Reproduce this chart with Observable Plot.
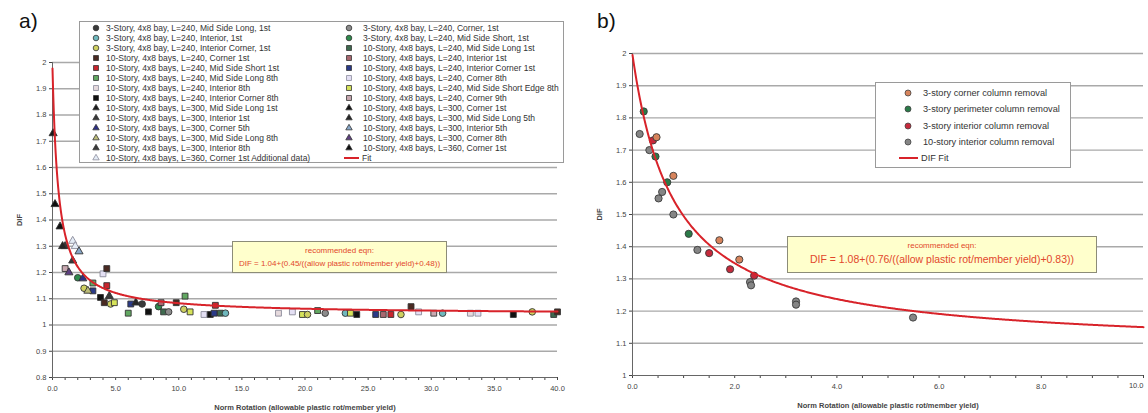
<!DOCTYPE html>
<html><head><meta charset="utf-8">
<script src="https://cdn.jsdelivr.net/npm/d3@7"></script>
<script src="https://cdn.jsdelivr.net/npm/@observablehq/plot@0.6"></script>
<style>
body{margin:0;background:#fff;font-family:"Liberation Sans",Arial,sans-serif;}
#wrap{position:relative;width:1148px;height:413px;overflow:hidden;background:#fff;}
.panel{position:absolute;top:0;}
.tag{position:absolute;font-size:21px;color:#111;line-height:1;}
.legend{position:absolute;background:#fff;border:1px solid #9a9a9a;box-sizing:border-box;}
.lrow{position:absolute;white-space:nowrap;color:#333;}
.lrow svg{position:absolute;left:0;top:0;overflow:visible;}
.note{position:absolute;background:#ffffcc;border:1px solid #8c8c78;box-sizing:border-box;color:#e2472b;text-align:center;white-space:nowrap;}
g[aria-label="x-axis label"] text, g[aria-label="y-axis label"] text{font-weight:bold;}
</style>
</head><body><div id="wrap"></div>
<script>
// ---------- Panel a data ----------
const seriesA = [
 "3-Story, 4x8 bay, L=240, Mid Side Long, 1st",
 "3-Story, 4x8 bay, L=240, Interior, 1st",
 "3-Story, 4x8 bay, L=240, Interior Corner, 1st",
 "10-Story, 4x8 bays, L=240, Corner 1st",
 "10-Story, 4x8 bays, L=240, Mid Side Short 1st",
 "10-Story, 4x8 bays, L=240, Mid Side Long 8th",
 "10-Story, 4x8 bays, L=240, Interior 8th",
 "10-Story, 4x8 bays, L=240, Interior Corner 8th",
 "10-Story, 4x8 bays, L=300, Mid Side Long 1st",
 "10-Story, 4x8 bays, L=300, Interior 1st",
 "10-Story, 4x8 bays, L=300, Corner 5th",
 "10-Story, 4x8 bays, L=300, Mid Side Long 8th",
 "10-Story, 4x8 bays, L=300, Interior 8th",
 "10-Story, 4x8 bays, L=360, Corner 1st Additional data)",
 "3-Story, 4x8 bay, L=240, Corner, 1st",
 "3-Story, 4x8 bay, L=240, Mid Side Short, 1st",
 "10-Story, 4x8 bays, L=240, Mid Side Long 1st",
 "10-Story, 4x8 bays, L=240, Interior 1st",
 "10-Story, 4x8 bays, L=240, Interior Corner 1st",
 "10-Story, 4x8 bays, L=240, Corner 8th",
 "10-Story, 4x8 bays, L=240, Mid Side Short Edge 8th",
 "10-Story, 4x8 bays, L=240, Corner 9th",
 "10-Story, 4x8 bays, L=300, Corner 1st",
 "10-Story, 4x8 bays, L=300, Mid Side Long 5th",
 "10-Story, 4x8 bays, L=300, Interior 5th",
 "10-Story, 4x8 bays, L=300, Corner 8th",
 "10-Story, 4x8 bays, L=360, Corner 1st"
];
const fitLabelA = "Fit";
const ptsAX = [0.05,0.2,0.6,1.0,0.8,1.6,1.8,2.1,1.6,1.0,1.3,2.0,2.4,2.5,2.8,3.2,3.2,4.0,4.3,4.3,3.8,4.1,4.5,4.6,4.9,6.0,6.2,6.6,7.1,7.6,8.4,8.6,8.8,9.2,9.8,10.5,10.4,10.9,12.0,12.5,12.8,12.9,13.3,13.7,17.9,19.0,19.8,20.2,21.0,21.6,23.2,23.6,24.1,25.6,26.2,26.8,27.6,28.4,29.0,30.2,30.9,33.1,33.7,36.5,38.0,39.7,40.0];
const ptsAY = [1.73,1.46,1.375,1.30,1.30,1.32,1.30,1.28,1.245,1.215,1.20,1.18,1.177,1.14,1.13,1.13,1.16,1.195,1.215,1.15,1.105,1.085,1.11,1.08,1.085,1.045,1.08,1.085,1.08,1.05,1.07,1.085,1.05,1.05,1.085,1.11,1.06,1.05,1.04,1.04,1.045,1.075,1.045,1.045,1.045,1.05,1.04,1.04,1.055,1.045,1.045,1.045,1.04,1.04,1.04,1.04,1.04,1.07,1.05,1.045,1.045,1.045,1.045,1.04,1.05,1.04,1.05];
const ptsAS = [8,26,22,9,23,13,13,24,12,21,25,15,10,2,11,18,5,19,3,4,7,3,12,2,20,5,18,23,0,7,15,17,16,14,3,5,2,20,19,7,18,4,16,1,6,19,20,2,5,14,1,20,7,18,17,4,2,3,19,21,1,6,19,7,2,16,3];
const fitCoefA = [1.04, 0.45, 0.48];
const noteA = ["recommended eqn:", "DIF = 1.04+(0.45/((allow plastic rot/member yield)+0.48))"];

// ---------- Panel b data ----------
const seriesB = ["3-story corner column removal","3-story perimeter column removal","3-story interior column removal","10-story interior column removal"];
const fitLabelB = "DIF Fit";
const ptsBX = [0.14,0.22,0.33,0.40,0.47,0.45,0.80,0.68,0.58,0.51,0.80,1.10,1.27,1.50,1.70,1.91,2.09,2.30,2.32,2.38,3.2,3.2,5.49];
const ptsBY = [1.75,1.82,1.70,1.73,1.74,1.68,1.62,1.60,1.57,1.55,1.50,1.44,1.39,1.38,1.42,1.33,1.36,1.29,1.28,1.31,1.23,1.22,1.18];
const ptsBS = [3,1,3,2,0,1,0,1,3,3,3,1,3,2,0,2,0,3,3,2,3,3,3];
const fitCoefB = [1.08, 0.76, 0.83];
const noteB = ["recommended eqn:", "DIF = 1.08+(0.76/((allow plastic rot/member yield)+0.83))"];

const xTitle = "Norm Rotation (allowable plastic rot/member yield)";
const yTitle = "DIF";

// ---------- styles ----------
const symA = ["circle","circle","circle","square","square","square","square","square","triangle","triangle","triangle","triangle","triangle","triangle",
              "circle","circle","square","square","square","square","square","square","triangle","triangle","triangle","triangle","triangle"];
const fillA = ["#3a3a3a","#6fb8bd","#cfd060","#4a2a22","#c7262e","#62a862","#e6dadd","#111111","#1a1a1a","#383838","#2d2f86","#bcbc78","#3a3a3a","#e4ecf6",
               "#8c8c8c","#2f8a4c","#3f6a4f","#a86870","#2a3a88","#e4e0f4","#d6e35a","#c8a8b0","#111111","#262626","#86a6c8","#5e3f80","#0e0e0e"];
const strokeA = fillA.map((c,i) => [6,13,19].includes(i) ? "#8a8a9a" : "#333");
const fillB = ["#d7845c","#2a7a48","#c62a3c","#858585"];
const fitColor = "#d8232a";

function fmtY(d){ return String(+d.toFixed(1)); }
function fitPts(c, max, step){ return d3.range(0, max + step/2, step).map(x => ({x, y: c[0] + c[1]/(x + c[2])})); }

const dataA = ptsAX.map((x,i) => ({x, y: ptsAY[i], s: ptsAS[i]}));
const dataB = ptsBX.map((x,i) => ({x, y: ptsBY[i], s: ptsBS[i]}));
const plotStyle = {fontFamily: '"Liberation Sans",Arial,sans-serif', fontSize: "7.5px", color: "#444", background: "transparent"};
const symR = s => s === "triangle" ? 3.0 : 3.3;

const wrap = document.getElementById("wrap");

// ---------- Plot a ----------
const yTicksA = d3.range(8, 21).map(d => d/10);
const plotA = Plot.plot({
  width: 570, height: 413,
  marginLeft: 52, marginRight: 13, marginTop: 62, marginBottom: 36,
  x: {domain: [0, 40]},
  y: {domain: [0.8, 2]},
  r: {type: "identity"},
  style: plotStyle,
  marks: [
    Plot.ruleY(yTicksA.filter(d => d > 0.85), {stroke: "#a9a9a9", strokeWidth: 1.4}),
    Plot.axisY({ticks: yTicksA, tickSize: 3, tickPadding: 3, tickFormat: fmtY, label: yTitle, labelAnchor: "center", labelOffset: 36, labelArrow: "none"}),
    Plot.axisX({ticks: d3.range(0, 41, 1), tickSize: 3, tickPadding: 5, tickFormat: d => d % 5 === 0 ? d.toFixed(1) : "", label: xTitle, labelAnchor: "center", labelOffset: 32, labelArrow: "none"}),
    Plot.ruleX([0], {stroke: "#666"}),
    Plot.ruleY([0.8], {stroke: "#666"}),
    Plot.dot(dataA, {x: "x", y: "y", symbol: d => symA[d.s], fill: d => fillA[d.s], stroke: d => strokeA[d.s], r: d => symR(symA[d.s]), strokeWidth: 0.9}),
    Plot.line(fitPts(fitCoefA, 40, 0.05), {x: "x", y: "y", stroke: fitColor, strokeWidth: 2})
  ]
});
plotA.classList.add("panel"); plotA.style.left = "0px";
wrap.appendChild(plotA);

// ---------- Plot b ----------
const yTicksB = d3.range(10, 21).map(d => d/10);
const plotB = Plot.plot({
  width: 570, height: 413,
  marginLeft: 54, marginRight: 5, marginTop: 53, marginBottom: 38,
  x: {domain: [0, 10]},
  y: {domain: [1, 2]},
  style: plotStyle,
  marks: [
    Plot.ruleY(yTicksB.filter(d => d > 1.05), {stroke: "#a9a9a9", strokeWidth: 1.4}),
    Plot.axisY({ticks: yTicksB, tickSize: 3, tickPadding: 3, tickFormat: fmtY, label: yTitle, labelAnchor: "center", labelOffset: 36, labelArrow: "none"}),
    Plot.axisX({ticks: d3.range(0, 10.01, 0.5), tickSize: 3, tickPadding: 5, tickFormat: d => (Math.round(d*2) % 4 === 0 && d < 9.9) ? d.toFixed(1) : "", label: xTitle, labelAnchor: "center", labelOffset: 32, labelArrow: "none"}),
    Plot.text([10], {x: d => d, frameAnchor: "bottom", dy: 12, text: d => d.toFixed(1), textAnchor: "end"}),
    Plot.ruleX([0], {stroke: "#666"}),
    Plot.ruleY([1], {stroke: "#666"}),
    Plot.dot(dataB, {x: "x", y: "y", fill: d => fillB[d.s], stroke: "#3a3a3a", r: 3.6, strokeWidth: 0.9}),
    Plot.line(fitPts(fitCoefB, 10, 0.02), {x: "x", y: "y", stroke: fitColor, strokeWidth: 2})
  ]
});
plotB.classList.add("panel"); plotB.style.left = "578px";
wrap.appendChild(plotB);

// ---------- tags ----------
function addTag(t, l, tp){ const d = document.createElement("div"); d.className = "tag"; d.textContent = t; d.style.left = l + "px"; d.style.top = tp + "px"; wrap.appendChild(d); }
addTag("a)", 19, 10);
addTag("b)", 597, 10);

// ---------- legends ----------
function markerSvg(sym, fill, stroke, r){
  const ns = "http://www.w3.org/2000/svg";
  const svg = document.createElementNS(ns, "svg");
  svg.setAttribute("width", 10); svg.setAttribute("height", 10);
  const p = document.createElementNS(ns, "path");
  const t = sym === "square" ? d3.symbolSquare : sym === "triangle" ? d3.symbolTriangle : d3.symbolCircle;
  const rr = sym === "triangle" ? r * 0.85 : r;
  p.setAttribute("d", d3.symbol(t, Math.PI * rr * rr)());
  p.setAttribute("transform", "translate(5,5)");
  p.setAttribute("fill", fill); p.setAttribute("stroke", stroke); p.setAttribute("stroke-width", 0.8);
  svg.appendChild(p);
  return svg;
}
function lineSvg(w){
  const ns = "http://www.w3.org/2000/svg";
  const svg = document.createElementNS(ns, "svg");
  svg.setAttribute("width", w); svg.setAttribute("height", 10);
  const l = document.createElementNS(ns, "line");
  l.setAttribute("x1", 0); l.setAttribute("x2", w); l.setAttribute("y1", 5); l.setAttribute("y2", 5);
  l.setAttribute("stroke", fitColor); l.setAttribute("stroke-width", 2);
  svg.appendChild(l);
  return svg;
}
function addRow(box, x, cy, text, svg, textX, fs){
  const r = document.createElement("div"); r.className = "lrow";
  r.style.left = x + "px"; r.style.top = (cy - 5) + "px"; r.style.height = "10px"; r.style.lineHeight = "10px"; r.style.fontSize = fs + "px";
  r.appendChild(svg);
  const s = document.createElement("span"); s.textContent = text; s.style.position = "absolute"; s.style.left = textX + "px"; s.style.top = "0px";
  r.appendChild(s);
  box.appendChild(r);
}
// legend a
const legA = document.createElement("div"); legA.className = "legend";
Object.assign(legA.style, {left: "79px", top: "21px", width: "485px", height: "142px"});
wrap.appendChild(legA);
seriesA.forEach((name, i) => {
  const col = i < 14 ? 0 : 1, row = i < 14 ? i : i - 14;
  addRow(legA, col ? 264 : 11, 6 + row * 10, name, markerSvg(symA[i], fillA[i], strokeA[i], 2.8), col ? 19 : 15, 8.5);
});
addRow(legA, 264, 6 + 13 * 10, fitLabelA, lineSvg(15), 18, 8.5);

// legend b
const legB = document.createElement("div"); legB.className = "legend";
Object.assign(legB.style, {left: "875px", top: "82px", width: "196px", height: "86px"});
wrap.appendChild(legB);
seriesB.forEach((name, i) => addRow(legB, 27, 10 + i * 16.3, name, markerSvg("circle", fillB[i], "#444", 3), 20, 9.2));
addRow(legB, 23, 10 + 4 * 16.3, fitLabelB, lineSvg(19), 22, 9.2);

// notes
function addNote(lines, l, t, w, h, sizes, tops){
  const d = document.createElement("div"); d.className = "note";
  Object.assign(d.style, {left: l + "px", top: t + "px", width: w + "px", height: h + "px"});
  lines.forEach((s, i) => {
    const p = document.createElement("div"); p.textContent = s;
    Object.assign(p.style, {position: "absolute", left: "0", right: "0", top: (tops[i] - sizes[i] / 2 - 1) + "px", fontSize: sizes[i] + "px", lineHeight: (sizes[i] + 2) + "px"});
    d.appendChild(p);
  });
  wrap.appendChild(d);
}
addNote(noteA, 232, 241, 215, 32, [8, 8], [9, 22]);
addNote(noteB, 787, 236, 310, 37, [8, 10.5], [9, 22]);
</script>
</body></html>
